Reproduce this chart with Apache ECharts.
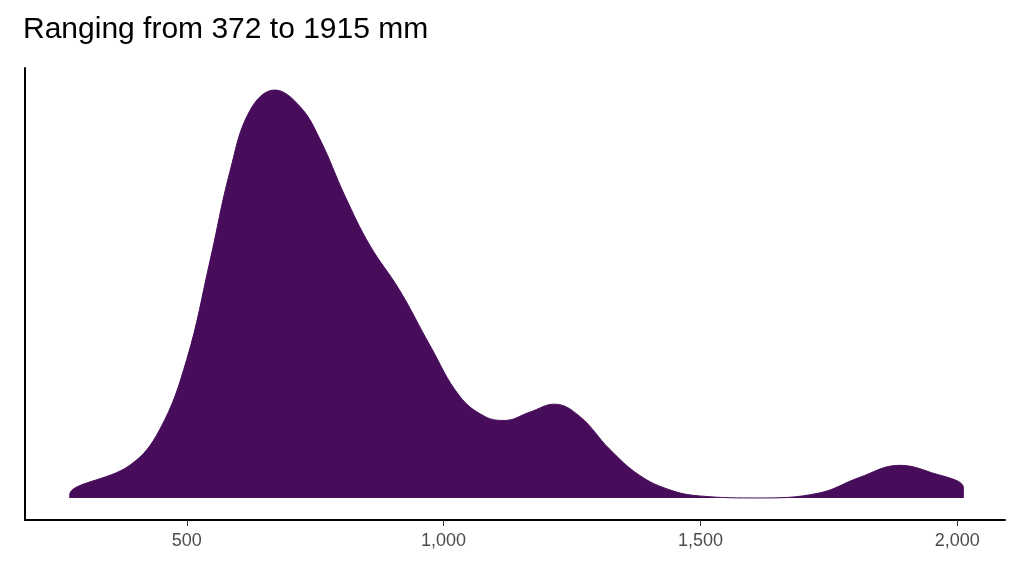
<!DOCTYPE html><html><head><meta charset="utf-8"><script src="https://cdn.jsdelivr.net/npm/echarts@6/dist/echarts.min.js"></script></head><body style="margin:0"><div id="c" style="width:1024px;height:576px"></div><script>
const xs=[272,389,447,500,545,584,623,671,720,759,808,856,914,973,1031,1080,1119,1167,1216,1265,1323,1381,1440,1498,1615,1731,1809,1887,1945,2012];
const ys=[0.007,0.08,0.167,0.34,0.58,0.80,0.95,1.0,0.96,0.88,0.74,0.62,0.51,0.375,0.25,0.20,0.19,0.21,0.23,0.20,0.12,0.056,0.02,0.005,0.0,0.012,0.05,0.08,0.064,0.025];
const ticks=[500,1000,1500,2000];
const data=[[xs[0],0]].concat(xs.map((x,i)=>[x,ys[i]])).concat([[xs[xs.length-1],0]]);
const ch=echarts.init(document.getElementById('c'));
ch.setOption({animation:false,
title:{text:'Ranging from 372 to 1915 mm',left:18,top:10,textStyle:{fontSize:30,fontWeight:'normal',color:'#000',fontFamily:'Liberation Sans, Arial'}},
grid:{left:25,right:19,top:68,bottom:56},
xAxis:{type:'value',min:185,max:2093,splitLine:{show:false},axisLine:{onZero:false,lineStyle:{color:'#000',width:2}},
axisTick:{customValues:ticks,length:6,lineStyle:{color:'#333'}},axisLabel:{customValues:ticks,fontSize:18,color:'#4d4d4d',margin:12,fontFamily:'Liberation Sans, Arial'}},
yAxis:{type:'value',min:-0.054,max:1.054,splitLine:{show:false},axisLabel:{show:false},axisTick:{show:false},axisLine:{show:true,lineStyle:{color:'#000',width:2}}},
series:[{type:'line',data:data,smooth:0.4,symbol:'none',lineStyle:{color:'#470d5b',width:1},areaStyle:{color:'#470d5b',opacity:1,origin:'auto'}}]});
</script></body></html>
